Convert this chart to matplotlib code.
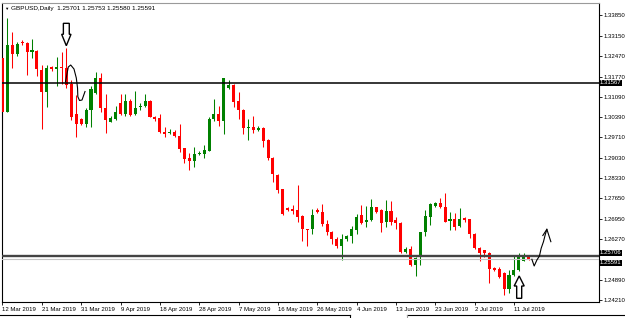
import numpy as np
import matplotlib
matplotlib.use("Agg")
import matplotlib.pyplot as plt
from matplotlib.patches import Polygon
from matplotlib.lines import Line2D

# ---- daily bars, GBPUSD ----
opens = [
    1.3241, 1.3058, 1.3284, 1.3252, 1.3294, 1.3289, 1.3261, 1.3263, 1.3199, 1.3126,
    1.3209, 1.3203, 1.3210, 1.3205, 1.3152, 1.3050, 1.3034, 1.3017, 1.3064, 1.3120,
    1.3173, 1.3070, 1.3024, 1.3034, 1.3088, 1.3049, 1.3095, 1.3050, 1.3073, 1.3077,
    1.3095, 1.3041, 1.3036, 1.2991, 1.2987, 1.2991, 1.2976, 1.2935, 1.2901, 1.2892,
    1.2914, 1.2915, 1.2926, 1.3033, 1.3050, 1.3027, 1.3137, 1.3148, 1.3095, 1.3064,
    1.3002, 1.3008, 1.2996, 1.3004, 1.2963, 1.2903, 1.2844, 1.2796, 1.2734, 1.2729,
    1.2726, 1.2707, 1.2662, 1.2661, 1.2726, 1.2718, 1.2679, 1.2653, 1.2627, 1.2604,
    1.2627, 1.2638, 1.2658, 1.2709, 1.2686, 1.2692, 1.2736, 1.2725, 1.2686, 1.2724,
    1.2692, 1.2681, 1.2585, 1.2594, 1.2540, 1.2566, 1.2651, 1.2703, 1.2739, 1.2751,
    1.2737, 1.2690, 1.2695, 1.2672, 1.2700, 1.2695, 1.2645, 1.2599, 1.2591, 1.2582,
    1.2529, 1.2526, 1.2514, 1.2458, 1.2506, 1.2523, 1.2555, 1.25701]
highs = [
    1.3250, 1.3376, 1.3329, 1.3293, 1.3300, 1.3294, 1.3304, 1.3267, 1.3216, 1.3216,
    1.3214, 1.3243, 1.3259, 1.3273, 1.3165, 1.3115, 1.3037, 1.3071, 1.3145, 1.3191,
    1.3188, 1.3118, 1.3042, 1.3077, 1.3117, 1.3118, 1.3101, 1.3129, 1.3087, 1.3118,
    1.3098, 1.3044, 1.3050, 1.3008, 1.2999, 1.2996, 1.3016, 1.2936, 1.2918, 1.2938,
    1.2926, 1.2946, 1.3039, 1.3100, 1.3077, 1.3173, 1.3165, 1.3152, 1.3126, 1.3067,
    1.3033, 1.3044, 1.3010, 1.3008, 1.2966, 1.2905, 1.2848, 1.2797, 1.2737, 1.2743,
    1.2810, 1.2709, 1.2663, 1.2729, 1.2733, 1.2746, 1.2692, 1.2655, 1.2636, 1.2645,
    1.2641, 1.2673, 1.2711, 1.2743, 1.2740, 1.2763, 1.2737, 1.2729, 1.2760, 1.2757,
    1.2703, 1.2685, 1.2600, 1.2604, 1.2567, 1.2653, 1.2726, 1.2749, 1.2753, 1.2768,
    1.2782, 1.2720, 1.2716, 1.2732, 1.2703, 1.2697, 1.2647, 1.2601, 1.2592, 1.2584,
    1.2532, 1.2534, 1.2517, 1.2523, 1.2574, 1.2580, 1.2582, 1.25753]
lows = [
    1.3003, 1.3057, 1.3205, 1.3246, 1.3284, 1.3181, 1.3239, 1.3179, 1.3001, 1.3075,
    1.3197, 1.3145, 1.3152, 1.3138, 1.3030, 1.2974, 1.3013, 1.3005, 1.3008, 1.3118,
    1.3057, 1.2985, 1.3022, 1.3030, 1.3047, 1.3044, 1.3044, 1.3047, 1.3064, 1.3074,
    1.3039, 1.3028, 1.2986, 1.2974, 1.2983, 1.2972, 1.2923, 1.2884, 1.2861, 1.2872,
    1.2912, 1.2901, 1.2925, 1.3027, 1.3011, 1.2983, 1.3135, 1.3075, 1.3034, 1.2983,
    1.2963, 1.2987, 1.2994, 1.2938, 1.2895, 1.2822, 1.2782, 1.2709, 1.2723, 1.2711,
    1.2684, 1.2621, 1.2604, 1.2644, 1.2716, 1.2673, 1.2641, 1.2610, 1.2599, 1.2557,
    1.2621, 1.2613, 1.2644, 1.2679, 1.2670, 1.2689, 1.2716, 1.2651, 1.2670, 1.2675,
    1.2661, 1.2582, 1.2580, 1.2537, 1.2503, 1.2540, 1.2638, 1.2675, 1.2736, 1.2733,
    1.2684, 1.2658, 1.2658, 1.2667, 1.2686, 1.2630, 1.2594, 1.2555, 1.2566, 1.2480,
    1.2520, 1.2496, 1.2439, 1.2444, 1.2503, 1.2521, 1.2552, 1.25580]
closes = [
    1.3058, 1.3284, 1.3252, 1.3286, 1.3289, 1.3259, 1.3267, 1.3201, 1.3126, 1.3207,
    1.3203, 1.3208, 1.3205, 1.3148, 1.3040, 1.3018, 1.3018, 1.3064, 1.3135, 1.3173,
    1.3069, 1.3030, 1.3036, 1.3058, 1.3049, 1.3094, 1.3047, 1.3070, 1.3078, 1.3095,
    1.3041, 1.3034, 1.2989, 1.2983, 1.2991, 1.2976, 1.2931, 1.2898, 1.2892, 1.2915,
    1.2920, 1.2929, 1.3033, 1.3050, 1.3027, 1.3171, 1.3148, 1.3092, 1.3064, 1.3002,
    1.3008, 1.2996, 1.3004, 1.2960, 1.2903, 1.2847, 1.2794, 1.2711, 1.2726, 1.2723,
    1.2703, 1.2661, 1.2658, 1.2709, 1.2718, 1.2679, 1.2653, 1.2627, 1.2604, 1.2627,
    1.2638, 1.2662, 1.2701, 1.2681, 1.2692, 1.2736, 1.2718, 1.2683, 1.2723, 1.2686,
    1.2681, 1.2585, 1.2594, 1.2540, 1.2563, 1.2651, 1.2706, 1.2745, 1.2749, 1.2735,
    1.2686, 1.2694, 1.2668, 1.2695, 1.2692, 1.2645, 1.2597, 1.2582, 1.2582, 1.2526,
    1.2523, 1.2498, 1.2458, 1.2506, 1.2523, 1.2574, 1.2568, 1.25591]

date_labels = ["12 Mar 2019", "21 Mar 2019", "31 Mar 2019", "9 Apr 2019", "18 Apr 2019",
               "28 Apr 2019", "7 May 2019", "16 May 2019", "26 May 2019", "4 Jun 2019",
               "13 Jun 2019", "23 Jun 2019", "2 Jul 2019", "11 Jul 2019"]
bars_per_label = 8

price_ticks = [1.33850, 1.33150, 1.32470, 1.31770, 1.31090, 1.30390, 1.29710,
               1.29030, 1.28330, 1.27650, 1.26950, 1.26270, 1.24890, 1.24210]

resistance = 1.31567
support = 1.25706
bid = 1.25591

# hand drawn marks (bar index, price)
down_arrow = [(12.38, 1.33569), (13.58, 1.33569), (13.58, 1.33198), (13.93, 1.33198),
              (12.98, 1.32812), (12.03, 1.33198), (12.38, 1.33198)]
up_arrow = [(104.56, 1.24274), (105.58, 1.24274), (105.58, 1.24690), (106.09, 1.24690),
            (105.07, 1.25028), (104.05, 1.24690), (104.56, 1.24690)]
curve = [(12.82, 1.31602), (13.38, 1.32092), (13.87, 1.32160), (14.54, 1.32025),
         (15.01, 1.31721), (15.26, 1.31383), (15.32, 1.31089), (15.66, 1.30960),
         (16.17, 1.30977), (16.78, 1.31264)]
zigzag = [(107.65, 1.25593), (108.12, 1.25366), (108.67, 1.25569), (109.19, 1.25704),
          (109.54, 1.25965), (110.01, 1.26188), (110.35, 1.26414), (110.70, 1.26607)]
zigzag_head = [(109.88, 1.26397), (110.70, 1.26607), (111.51, 1.26188)]

plt.rcParams['font.family'] = ['Liberation Sans', 'DejaVu Sans']

W, H = 625, 318
fig = plt.figure(figsize=(W / 100, H / 100), dpi=100)
ax = fig.add_axes([2 / W, 16 / H, 597 / W, 299 / H])
ax.set_xlim(-0.1, 121.3)
ax.set_ylim(1.24149, 1.34256)

o = np.array(opens); h = np.array(highs); l = np.array(lows); c = np.array(closes)
x = np.arange(len(o))
bull = c >= o
cols = np.where(bull, "#008000", "#ff0000")

ax.vlines(x, l, h, colors=cols, linewidth=0.75, zorder=2)
body = np.maximum(np.abs(c - o), 0.00034)
ax.bar(x, body, bottom=np.minimum(o, c), width=0.62, color=cols, linewidth=0, zorder=3)

# levels
ax.axhline(resistance, color="black", lw=1.1, zorder=5)
ax.axhline(support, color="#444444", lw=1.7, zorder=5)
ax.axhline(bid, color="#c4c4c4", lw=0.8, zorder=5)

# drawings
ax.add_patch(Polygon(down_arrow, closed=True, facecolor="white", edgecolor="black", lw=1.0, zorder=6))
ax.add_patch(Polygon(up_arrow, closed=True, facecolor="white", edgecolor="black", lw=1.0, zorder=6))
ax.plot(*zip(*curve), color="black", lw=0.8, zorder=6)
ax.plot(*zip(*zigzag), color="black", lw=0.8, zorder=6)
ax.plot(*zip(*zigzag_head), color="black", lw=0.8, zorder=6)

# axes
for s in ax.spines.values():
    s.set_linewidth(0.8)
    s.set_color("black")
ax.spines["top"].set_color("#9a9a9a")

ax.yaxis.tick_right()
ax.set_yticks(price_ticks)
ax.set_yticklabels([f"{p:.5f}" for p in price_ticks])
ax.tick_params(axis="y", direction="out", length=2, width=0.6, pad=1.2, labelsize=4.3)

ax.set_xticks([i * bars_per_label for i in range(len(date_labels))])
ax.set_xticklabels(date_labels, ha="left")
ax.tick_params(axis="x", direction="out", length=2, width=0.6, pad=1.5, labelsize=4.3)

# price tags on the right axis; the two close ones are stacked so they do not collide
for lvl, dy in ((resistance, 0), (support, 2.2), (bid, -2.4)):
    ax.annotate(f"{lvl:.5f}", xy=(1.0015, lvl), xycoords=ax.get_yaxis_transform(),
                xytext=(0, dy), textcoords="offset points", fontsize=4.3,
                color="white", va="center", ha="left", zorder=7, annotation_clip=False,
                bbox=dict(facecolor="black", edgecolor="none", pad=0.4))

# header
fig.text(4 / W, 1 - 8.5 / H, "\u25bc", fontsize=3.2, va="center", ha="left")
fig.text(11 / W, 1 - 8.5 / H, "GBPUSD,Daily  1.25701 1.25753 1.25580 1.25591",
         fontsize=4.6, va="center", ha="left")

# bottom tab strip
fig.add_artist(Line2D([0, 350 / W], [1 - 315 / H] * 2, color="black", lw=0.8))
fig.add_artist(Line2D([407 / W, 1], [1 - 315 / H] * 2, color="black", lw=0.8))
fig.add_artist(Line2D([350 / W, 350 / W], [1 - 315 / H, 0], color="black", lw=0.8))
fig.add_artist(Line2D([407 / W, 407 / W], [1 - 315 / H, 0], color="#9a9a9a", lw=0.8))

fig.savefig("out.png", dpi=100)
